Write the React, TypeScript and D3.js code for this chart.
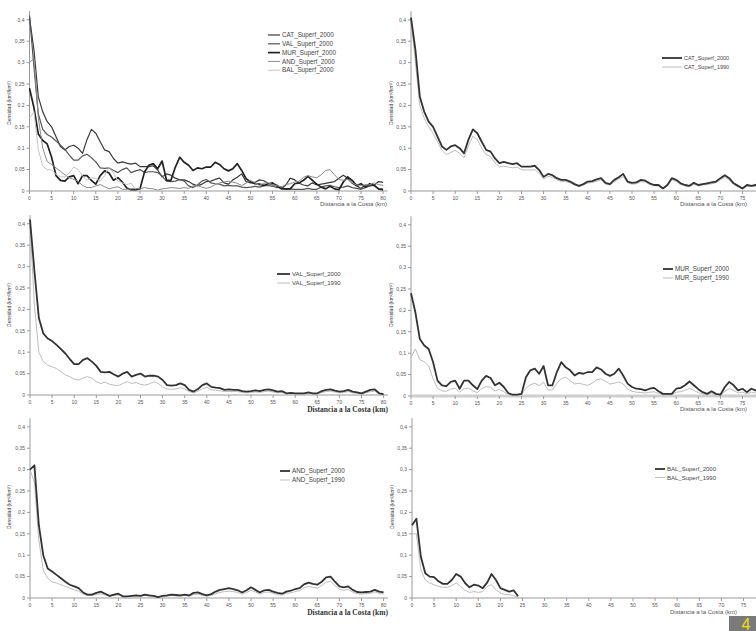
import React from "react";
import * as d3 from "d3";

// ---------- data ----------
const X_TICKS = [0, 5, 10, 15, 20, 25, 30, 35, 40, 45, 50, 55, 60, 65, 70, 75, 80];
const Y_TICKS = [0, 0.05, 0.1, 0.15, 0.2, 0.25, 0.3, 0.35, 0.4];
const Y_TICK_LABELS = ["0", "0,05", "0,1", "0,15", "0,2", "0,25", "0,3", "0,35", "0,4"];

const X_TITLE = "Distancia a la Costa (km)";
const Y_TITLE = "Densidad (km²/km²)";

const CAT_2000 = [0.405,0.33,0.22,0.185,0.162,0.15,0.127,0.104,0.096,0.104,0.107,0.1,0.088,0.12,0.144,0.135,0.115,0.096,0.092,0.076,0.065,0.068,0.065,0.063,0.065,0.057,0.057,0.057,0.059,0.049,0.033,0.04,0.037,0.03,0.026,0.026,0.022,0.016,0.012,0.016,0.022,0.023,0.027,0.03,0.019,0.016,0.026,0.032,0.04,0.022,0.019,0.02,0.026,0.024,0.018,0.014,0.014,0.006,0.014,0.03,0.026,0.018,0.014,0.012,0.019,0.014,0.016,0.018,0.02,0.022,0.03,0.037,0.03,0.018,0.012,0.006,0.014,0.012,0.014,0.022,0.02];
const CAT_1990 = [0.4,0.3,0.2,0.17,0.15,0.135,0.115,0.095,0.085,0.09,0.095,0.088,0.078,0.105,0.128,0.12,0.1,0.085,0.08,0.066,0.056,0.058,0.056,0.054,0.056,0.05,0.049,0.049,0.05,0.042,0.028,0.034,0.032,0.026,0.022,0.022,0.019,0.014,0.01,0.014,0.019,0.02,0.023,0.026,0.016,0.014,0.022,0.028,0.034,0.019,0.016,0.017,0.022,0.021,0.015,0.012,0.012,0.005,0.012,0.026,0.022,0.015,0.012,0.01,0.016,0.012,0.014,0.015,0.017,0.019,0.026,0.032,0.026,0.015,0.01,0.005,0.012,0.01,0.012,0.019,0.017];

const VAL_2000 = [0.41,0.29,0.18,0.144,0.132,0.126,0.117,0.107,0.097,0.084,0.072,0.072,0.082,0.086,0.078,0.068,0.054,0.053,0.054,0.048,0.043,0.05,0.054,0.043,0.047,0.05,0.043,0.045,0.045,0.043,0.035,0.023,0.022,0.023,0.027,0.023,0.012,0.008,0.014,0.023,0.027,0.019,0.017,0.016,0.012,0.013,0.012,0.012,0.009,0.008,0.009,0.011,0.009,0.012,0.013,0.011,0.008,0.009,0.004,0.005,0.004,0.004,0.004,0.006,0.004,0.004,0.009,0.012,0.013,0.01,0.008,0.009,0.012,0.008,0.006,0.004,0.008,0.012,0.013,0.004,0.002];
const VAL_1990 = [0.4,0.21,0.1,0.078,0.07,0.066,0.062,0.054,0.047,0.043,0.037,0.035,0.04,0.043,0.039,0.031,0.027,0.03,0.025,0.023,0.022,0.027,0.031,0.027,0.029,0.025,0.023,0.026,0.031,0.027,0.019,0.014,0.013,0.014,0.017,0.014,0.008,0.005,0.009,0.015,0.018,0.012,0.011,0.01,0.008,0.008,0.008,0.008,0.006,0.005,0.006,0.007,0.006,0.008,0.009,0.007,0.005,0.006,0.003,0.003,0.003,0.003,0.003,0.004,0.003,0.003,0.006,0.008,0.009,0.007,0.005,0.006,0.008,0.005,0.004,0.003,0.005,0.008,0.009,0.003,0.001];

const MUR_2000 = [0.24,0.195,0.133,0.118,0.11,0.079,0.036,0.025,0.023,0.033,0.036,0.017,0.036,0.036,0.025,0.016,0.036,0.047,0.042,0.025,0.031,0.021,0.007,0.003,0.003,0.005,0.044,0.06,0.064,0.052,0.07,0.025,0.025,0.056,0.079,0.067,0.06,0.048,0.054,0.052,0.056,0.056,0.067,0.062,0.052,0.047,0.052,0.064,0.048,0.029,0.021,0.017,0.016,0.013,0.017,0.019,0.011,0.005,0.005,0.005,0.017,0.019,0.025,0.034,0.025,0.016,0.009,0.005,0.011,0.005,0.003,0.021,0.033,0.025,0.013,0.017,0.009,0.017,0.013,0.005,0.004];
const MUR_1990 = [0.09,0.11,0.085,0.08,0.07,0.04,0.018,0.012,0.011,0.016,0.018,0.009,0.017,0.018,0.012,0.008,0.017,0.022,0.02,0.012,0.015,0.01,0.004,0.002,0.002,0.003,0.018,0.026,0.03,0.024,0.032,0.014,0.014,0.03,0.04,0.044,0.036,0.028,0.03,0.027,0.025,0.03,0.038,0.04,0.034,0.028,0.03,0.033,0.028,0.016,0.011,0.009,0.008,0.007,0.009,0.01,0.006,0.003,0.003,0.003,0.009,0.01,0.013,0.018,0.013,0.008,0.005,0.003,0.006,0.003,0.002,0.011,0.017,0.013,0.007,0.009,0.005,0.009,0.007,0.003,0.002];

const AND_2000 = [0.3,0.31,0.17,0.1,0.069,0.062,0.054,0.046,0.038,0.031,0.027,0.023,0.013,0.008,0.008,0.012,0.015,0.01,0.005,0.008,0.01,0.004,0.004,0.005,0.006,0.005,0.008,0.006,0.005,0.002,0.005,0.006,0.008,0.007,0.006,0.008,0.006,0.012,0.013,0.009,0.006,0.009,0.015,0.019,0.021,0.023,0.021,0.018,0.013,0.018,0.025,0.019,0.013,0.018,0.019,0.015,0.012,0.01,0.015,0.017,0.021,0.023,0.032,0.036,0.033,0.031,0.038,0.048,0.05,0.038,0.027,0.025,0.027,0.019,0.014,0.013,0.014,0.015,0.019,0.015,0.013];
const AND_1990 = [0.3,0.27,0.135,0.065,0.046,0.038,0.035,0.031,0.027,0.023,0.019,0.016,0.009,0.006,0.006,0.008,0.01,0.007,0.004,0.006,0.007,0.003,0.003,0.004,0.004,0.004,0.006,0.004,0.004,0.002,0.004,0.004,0.006,0.005,0.004,0.006,0.004,0.008,0.009,0.006,0.004,0.006,0.01,0.013,0.015,0.016,0.015,0.013,0.009,0.013,0.018,0.014,0.009,0.013,0.014,0.011,0.008,0.007,0.011,0.012,0.015,0.017,0.024,0.027,0.025,0.023,0.029,0.037,0.039,0.029,0.02,0.018,0.02,0.014,0.01,0.009,0.01,0.011,0.014,0.011,0.009];

const BAL_2000 = [0.17,0.185,0.097,0.058,0.05,0.049,0.039,0.033,0.033,0.042,0.056,0.05,0.035,0.025,0.031,0.029,0.023,0.036,0.056,0.042,0.023,0.019,0.015,0.018,0.004];
const BAL_1990 = [0.15,0.15,0.066,0.042,0.035,0.031,0.027,0.025,0.025,0.029,0.035,0.027,0.018,0.013,0.015,0.013,0.015,0.027,0.031,0.019,0.012,0.008,0.008,0.005,0.002];

// ---------- drawing ----------
type Series = { name: string; values: number[]; color: string; width: number };

const DARK = "#333";
const LIGHT = "#bdbdbd";
const FONT = "'Liberation Sans', Arial, sans-serif";

type PanelProps = {
  x0: number; y0: number; series: Series[];
  lx: number; ly: number; lFont: number; lSample: number; lGap: number;
  xtX: number; xtY: number; xtAnchor: "start" | "end"; xtBold?: boolean;
  ytX: number; ytY: number; baseW?: number;
};

function Panel(p: PanelProps) {
  const pxPerKm = 4.42;
  const x = d3.scaleLinear().domain([0, 81]).range([p.x0, p.x0 + 81 * pxPerKm]);
  const y = d3.scaleLinear().domain([0, 0.42]).range([p.y0, p.y0 - 0.42 * 428]);
  const line = d3.line<number>().x((_, i) => x(i)).y((v) => y(v));
  return (
    <g>
      <line x1={x(0)} x2={x(0)} y1={y(0)} y2={y(0.42)} stroke="#9a9a9a" strokeWidth={1} />
      <line x1={x(0)} x2={x(81)} y1={y(0)} y2={y(0)} stroke={p.baseW ? "#cfcfcf" : "#9a9a9a"} strokeWidth={p.baseW || 1} />
      {Y_TICKS.map((t, i) => (
        <g key={"y" + i}>
          <line x1={x(0) - 3} x2={x(0)} y1={y(t)} y2={y(t)} stroke="#9a9a9a" />
          <text x={x(0) - 5} y={y(t) + 1.8} fontSize={5} fill="#555" textAnchor="end" fontFamily={FONT}>{Y_TICK_LABELS[i]}</text>
        </g>
      ))}
      {X_TICKS.map((t, i) => (
        <g key={"x" + i}>
          <line x1={x(t)} x2={x(t)} y1={y(0)} y2={y(0) + 3} stroke="#9a9a9a" />
          <text x={x(t)} y={y(0) + 8.5} fontSize={5} fill="#555" textAnchor="middle" fontFamily={FONT}>{t}</text>
        </g>
      ))}
      {[...p.series].sort((a, b) => (a.color === LIGHT ? -1 : 0) - (b.color === LIGHT ? -1 : 0)).map((s) => (
        <path key={s.name} d={line(s.values) || ""} fill="none" stroke={s.color} strokeWidth={s.width} strokeLinejoin="round" />
      ))}
      {p.series.map((s, i) => (
        <g key={"l" + s.name}>
          <line x1={p.lx} x2={p.lx + p.lSample} y1={p.ly + i * p.lGap} y2={p.ly + i * p.lGap} stroke={s.color} strokeWidth={s.width} />
          <text x={p.lx + p.lSample + 2} y={p.ly + i * p.lGap + p.lFont * 0.35} fontSize={p.lFont} fill="#444" fontFamily={FONT}>{s.name}</text>
        </g>
      ))}
      <text x={p.xtX} y={p.xtY} fontSize={p.xtBold ? 7.5 : 6} fontWeight={p.xtBold ? "bold" : "normal"}
        fill={p.xtBold ? "#333" : "#555"} textAnchor={p.xtAnchor}
        fontFamily={p.xtBold ? "'Liberation Serif', serif" : FONT}>{X_TITLE}</text>
      <text transform={`translate(${p.ytX},${p.ytY}) rotate(-90)`} fontSize={5} fill="#444" textAnchor="middle" fontFamily={FONT}>{Y_TITLE}</text>
    </g>
  );
}

export default function App() {
  const s2 = (a: string, v20: number[], v90: number[]): Series[] => [
    { name: `${a}_Superf_2000`, values: v20, color: DARK, width: 1.8 },
    { name: `${a}_Superf_1990`, values: v90, color: LIGHT, width: 1 },
  ];
  const all: Series[] = [
    { name: "CAT_Superf_2000", values: CAT_2000, color: "#3a3a3a", width: 1.2 },
    { name: "VAL_Superf_2000", values: VAL_2000, color: "#555", width: 1.2 },
    { name: "MUR_Superf_2000", values: MUR_2000, color: "#222", width: 1.7 },
    { name: "AND_Superf_2000", values: AND_2000, color: "#8a8a8a", width: 1 },
    { name: "BAL_Superf_2000", values: BAL_2000, color: "#c4c4c4", width: 1 },
  ];
  return (
    <div style={{ position: "absolute", left: 0, top: 0 }}>
      <svg width={756} height={631} style={{ display: "block", background: "#fff" }}>
        <Panel x0={29.5} y0={191} series={all} lx={268} ly={35} lFont={6.3} lSample={12} lGap={8.8}
          xtX={387} xtY={206} xtAnchor="end" ytX={11} ytY={103} />
        <Panel x0={411} y0={191} series={s2("CAT", CAT_2000, CAT_1990)} lx={662} ly={58} lFont={5.5} lSample={20} lGap={9}
          xtX={680} xtY={206} xtAnchor="start" ytX={393} ytY={103} />
        <Panel x0={30} y0={395} series={s2("VAL", VAL_2000, VAL_1990)} lx={277} ly={274} lFont={6} lSample={13} lGap={9}
          xtX={388} xtY={412} xtAnchor="end" xtBold ytX={11} ytY={305} />
        <Panel x0={411} y0={396} series={s2("MUR", MUR_2000, MUR_1990)} lx={663} ly={269} lFont={6.3} lSample={10} lGap={9}
          xtX={680} xtY={411} xtAnchor="start" ytX={393} ytY={305} baseW={3} />
        <Panel x0={30} y0={598} series={s2("AND", AND_2000, AND_1990)} lx={280} ly={471} lFont={6.3} lSample={10} lGap={9}
          xtX={388} xtY={615} xtAnchor="end" xtBold ytX={11} ytY={507} />
        <Panel x0={412} y0={598} series={s2("BAL", BAL_2000, BAL_1990)} lx={655} ly={469} lFont={6} lSample={10} lGap={8.5}
          xtX={670} xtY={614} xtAnchor="start" ytX={394} ytY={507} />
        <rect x={729} y={616} width={27} height={15} fill="#7a7a7a" />
        <text x={746} y={630} fontSize={16} fill="#f0e000" textAnchor="middle" fontFamily={FONT}>4</text>
      </svg>
    </div>
  );
}
